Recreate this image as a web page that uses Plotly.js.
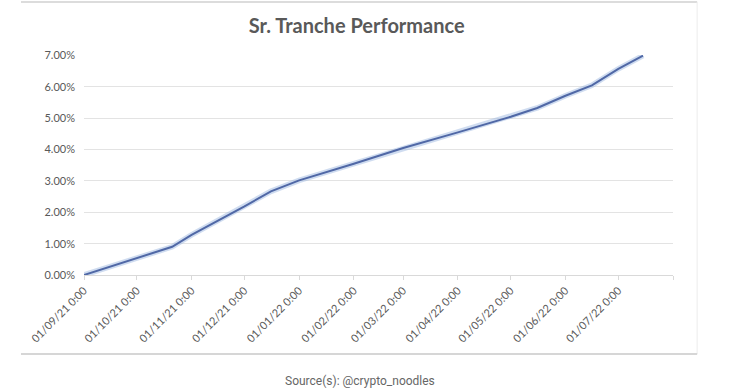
<!DOCTYPE html>
<html>
<head>
<meta charset="utf-8">
<script src="https://cdn.plot.ly/plotly-3.0.1.min.js"></script>
<style>html,body{margin:0;padding:0;background:#fff;}#chart{width:731px;height:388px;}</style>
</head>
<body>
<div id="chart"></div>
<script>
// Data
const dates = ['2021-09-01','2021-10-01','2021-10-21','2021-11-01','2021-11-16','2021-12-01','2021-12-16',
  '2022-01-01','2022-02-01','2022-03-01','2022-04-01','2022-05-01','2022-05-16','2022-06-01','2022-06-16',
  '2022-07-01','2022-07-15'];
const performance = [0.0000,0.0055,0.0090,0.0128,0.0173,0.0219,0.0267,
  0.0302,0.0355,0.0405,0.0455,0.0505,0.0533,0.0572,0.0605,
  0.0658,0.0700];
const tickDates = ['2021-09-01','2021-10-01','2021-11-01','2021-12-01','2022-01-01','2022-02-01','2022-03-01',
  '2022-04-01','2022-05-01','2022-06-01','2022-07-01','2022-08-01'];
const tickLabels = ['01/09/21 0:00','01/10/21 0:00','01/11/21 0:00','01/12/21 0:00','01/01/22 0:00','01/02/22 0:00',
  '01/03/22 0:00','01/04/22 0:00','01/05/22 0:00','01/06/22 0:00','01/07/22 0:00',''];
const yTicks = [0,0.01,0.02,0.03,0.04,0.05,0.06,0.07];

const font = 'Lato, "Open Sans", "DejaVu Sans", sans-serif';
const gray = '#595959';

const traces = [
  {x: dates, y: performance, type: 'scatter', mode: 'lines',
   line: {color: 'rgba(160,186,226,0.5)', width: 5.5}, hoverinfo: 'skip', showlegend: false},
  {x: dates, y: performance, type: 'scatter', mode: 'lines',
   line: {color: '#5068a6', width: 2}, showlegend: false}
];

const layout = {
  width: 731, height: 388,
  margin: {l: 84, r: 58, t: 55, b: 113},
  paper_bgcolor: '#ffffff', plot_bgcolor: '#ffffff',
  font: {family: font, color: gray, size: 11},
  title: {text: '<b>Sr. Tranche Performance</b>', x: 0.488, xref: 'container', y: 0.933, yref: 'container',
          xanchor: 'center', yanchor: 'middle', font: {family: font, size: 20, color: gray}},
  xaxis: {type: 'date', range: ['2021-09-01','2022-08-01'], tickmode: 'array', tickvals: tickDates, ticktext: tickLabels,
          tickangle: -45, ticks: 'outside', ticklen: 4, tickcolor: '#d9d9d9', showgrid: false,
          showline: true, linecolor: '#d9d9d9', linewidth: 1, zeroline: false,
          tickfont: {family: font, size: 11, color: gray}, fixedrange: true},
  yaxis: {range: [0, 0.0702], tickmode: 'array', tickvals: yTicks, tickformat: '.2%',
          showgrid: true, gridcolor: '#e3e3e3', gridwidth: 1, zeroline: false, showline: false,
          ticks: '', ticklabelstandoff: 8, tickfont: {family: font, size: 11, color: gray}, fixedrange: true},
  shapes: [
    {type: 'line', xref: 'paper', yref: 'paper', x0: -0.107, x1: 1.041, y0: 1.241, y1: 1.241, line: {color: '#dcdcdc', width: 2}},
    {type: 'line', xref: 'paper', yref: 'paper', x0: 1.041, x1: 1.041, y0: 1.241, y1: -0.359, line: {color: '#ececec', width: 1}},
    {type: 'line', xref: 'paper', yref: 'paper', x0: -0.107, x1: 1.041, y0: -0.359, y1: -0.359, line: {color: '#d6d6d6', width: 2}}
  ],
  annotations: [
    {text: 'Source(s): @crypto_noodles', xref: 'paper', yref: 'paper', x: (360-84)/589, y: (275-381)/220,
     xanchor: 'center', yanchor: 'middle', showarrow: false,
     font: {family: 'Roboto, "Open Sans", sans-serif', size: 12, color: '#666666'}}
  ]
};

Plotly.newPlot('chart', traces, layout, {displayModeBar: false, staticPlot: true});
</script>
</body>
</html>
